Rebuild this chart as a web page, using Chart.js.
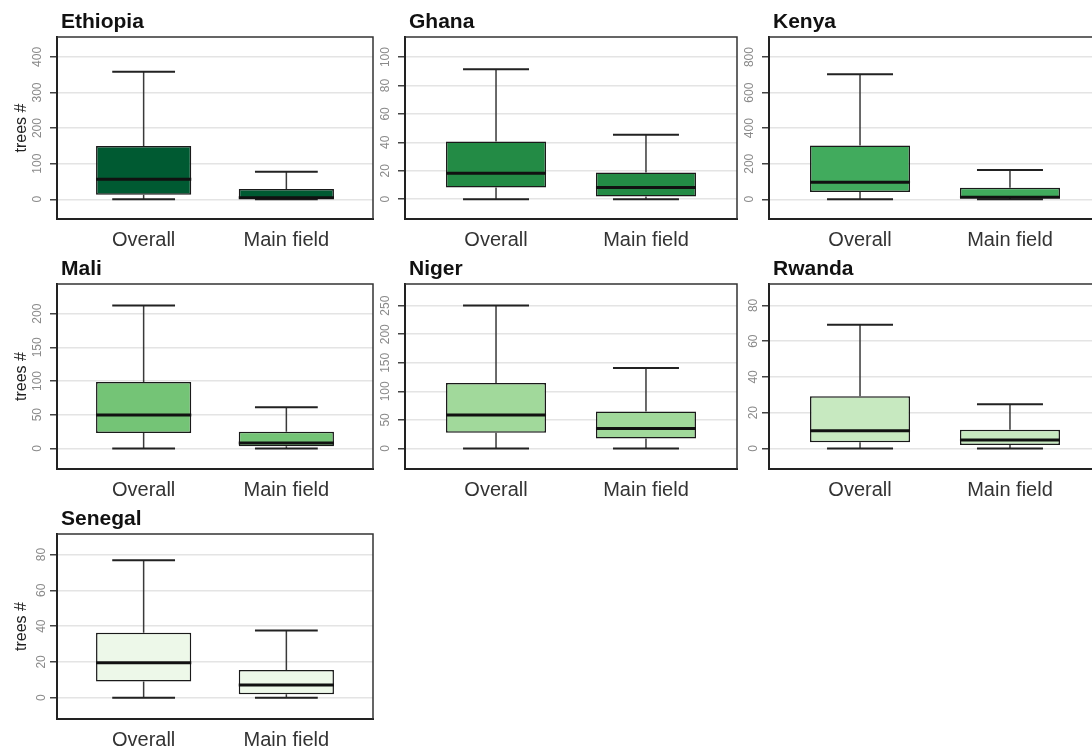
<!DOCTYPE html>
<html>
<head>
<meta charset="utf-8">
<script src="https://cdn.jsdelivr.net/npm/chart.js@4"></script>
<style>
html, body { margin: 0; padding: 0; background: #fff; overflow: hidden; width: 1092px; height: 751px; }
#wrap { position: relative; width: 1092px; height: 751px; }
canvas { position: absolute; }
</style>
</head>
<body>
<div id="wrap"></div>
<script>
const countries = ['Ethiopia', 'Ghana', 'Kenya', 'Mali', 'Niger', 'Rwanda', 'Senegal'];
const groups = ['Overall', 'Main field'];

// [min, q1, median, q3, max] per country
const overallStats = [
    [0, 13, 56, 150, 358],
    [0, 8.2, 18.3, 40.6, 91.5],
    [0, 41, 96, 302, 703],
    [0, 22.8, 49.6, 98.6, 212],
    [0, 27.5, 58.5, 114.6, 250.5],
    [0, 3.4, 9.9, 29.2, 69.2],
    [0, 9.1, 19.5, 36.3, 76.8]
];
const mainFieldStats = [
    [0, 2, 4, 29, 77],
    [0, 1.9, 8.2, 18.8, 45.3],
    [0, 8, 12, 65, 165],
    [0, 3, 8, 24.8, 61],
    [0, 17.5, 35, 64.8, 140.8],
    [0, 1.9, 4.7, 10.5, 24.7],
    [0, 2, 7.1, 15.5, 37.6]
];

const yTicks = [
    [0, 100, 200, 300, 400],
    [0, 20, 40, 60, 80, 100],
    [0, 200, 400, 600, 800],
    [0, 50, 100, 150, 200],
    [0, 50, 100, 150, 200, 250],
    [0, 20, 40, 60, 80],
    [0, 20, 40, 60, 80]
];
const yLimits = [
    [-55.5, 456],
    [-13.9, 114.1],
    [-111, 913],
    [-30.6, 244],
    [-36, 288],
    [-11.5, 92],
    [-11.9, 91.5]
];

const boxColors = ['#005a32', '#238b45', '#41ab5d', '#74c476', '#a1d99b', '#c7e9c0', '#edf8e9'];

// panel layout
const colLeft = [0, 376, 740];
const colWidth = [376, 364, 365];
const yAxisWidth = [57, 29, 29];
const rowTop = [0, 247, 497];
const plotHeight = [182, 185, 185];
const titleSpace = 37;
const xAxisHeight = 40;

const FONT = "'Liberation Sans', Arial, sans-serif";

function makeExtras(stats, title) {
    return {
        id: 'boxExtras',
        afterDatasetsDraw(chart) {
            const ctx = chart.ctx;
            const x = chart.scales.x;
            const y = chart.scales.y;
            const bars = chart.getDatasetMeta(0).data;
            ctx.save();
            stats.forEach((s, i) => {
                const cx = x.getPixelForValue(i + 1);
                const capL = x.getPixelForValue(i + 1 - 0.22);
                const capR = x.getPixelForValue(i + 1 + 0.22);
                // whiskers
                ctx.strokeStyle = '#3a3a3a';
                ctx.lineWidth = 1.5;
                ctx.beginPath();
                ctx.moveTo(cx, y.getPixelForValue(s[3]));
                ctx.lineTo(cx, y.getPixelForValue(s[4]));
                ctx.moveTo(cx, y.getPixelForValue(s[1]));
                ctx.lineTo(cx, y.getPixelForValue(s[0]));
                ctx.stroke();
                // caps
                ctx.strokeStyle = '#222';
                ctx.lineWidth = 2;
                ctx.beginPath();
                ctx.moveTo(capL, y.getPixelForValue(s[4]));
                ctx.lineTo(capR, y.getPixelForValue(s[4]));
                ctx.moveTo(capL, y.getPixelForValue(s[0]));
                ctx.lineTo(capR, y.getPixelForValue(s[0]));
                ctx.stroke();
                // median
                const bar = bars[i];
                const ym = y.getPixelForValue(s[2]);
                ctx.strokeStyle = '#111';
                ctx.lineWidth = 3;
                ctx.beginPath();
                ctx.moveTo(bar.x - bar.width / 2, ym);
                ctx.lineTo(bar.x + bar.width / 2, ym);
                ctx.stroke();
            });
            ctx.restore();
        },
        afterDraw(chart) {
            const ctx = chart.ctx;
            const a = chart.chartArea;
            ctx.save();
            ctx.strokeStyle = '#333';
            ctx.lineWidth = 1.5;
            ctx.beginPath();
            ctx.moveTo(a.left, a.top);
            ctx.lineTo(a.right, a.top);
            ctx.lineTo(a.right, a.bottom);
            ctx.stroke();
            ctx.fillStyle = '#111';
            ctx.font = 'bold 21px ' + FONT;
            ctx.textBaseline = 'alphabetic';
            ctx.textAlign = 'left';
            ctx.fillText(title, a.left + 4, a.top - 9.5);
            ctx.restore();
        }
    };
}

function createPanel(idx) {
    const row = Math.floor(idx / 3);
    const col = idx % 3;
    const canvas = document.createElement('canvas');
    const w = colWidth[col];
    const h = titleSpace + plotHeight[row] + xAxisHeight;
    canvas.width = w;
    canvas.height = h;
    canvas.style.left = colLeft[col] + 'px';
    canvas.style.top = rowTop[row] + 'px';
    canvas.style.width = w + 'px';
    canvas.style.height = h + 'px';
    document.getElementById('wrap').appendChild(canvas);

    const stats = [overallStats[idx], mainFieldStats[idx]];
    const ticks = yTicks[idx];

    new Chart(canvas.getContext('2d'), {
        type: 'bar',
        data: {
            datasets: [{
                data: stats.map((s, i) => ({ x: i + 1, y: [s[1], s[3]] })),
                backgroundColor: boxColors[idx],
                borderColor: '#1a1a1a',
                borderWidth: 1.5,
                borderSkipped: false,
                barPercentage: 0.667,
                categoryPercentage: 1
            }]
        },
        options: {
            responsive: false,
            animation: false,
            devicePixelRatio: 1,
            layout: { padding: { top: titleSpace, right: w - (yAxisWidth[col] + (col === 0 ? 316 : 332)), left: 0, bottom: 0 } },
            plugins: {
                legend: { display: false },
                tooltip: { enabled: false },
                title: { display: false }
            },
            scales: {
                x: {
                    type: 'linear',
                    min: 0.393,
                    max: 2.607,
                    offset: false,
                    afterBuildTicks: s => { s.ticks = groups.map((g, i) => ({ value: i + 1 })); },
                    afterFit: s => { s.height = xAxisHeight; },
                    grid: { display: false, drawTicks: false, offset: false },
                    border: { display: true, color: '#222', width: 2 },
                    ticks: {
                        padding: 9,
                        color: '#333',
                        font: { family: FONT, size: 20 },
                        autoSkip: false,
                        maxRotation: 0,
                        callback: v => groups[v - 1]
                    }
                },
                y: {
                    min: yLimits[idx][0],
                    max: yLimits[idx][1],
                    afterBuildTicks: s => { s.ticks = ticks.map(v => ({ value: v })); },
                    afterFit: s => { s.width = yAxisWidth[col]; },
                    grid: { color: '#e4e4e4', lineWidth: 1.5, tickLength: 7, tickColor: '#444', tickWidth: 1.5 },
                    border: { display: true, color: '#222', width: 2 },
                    ticks: {
                        minRotation: 90,
                        maxRotation: 90,
                        crossAlign: 'center',
                        padding: 2,
                        autoSkip: false,
                        color: '#8a8a8a',
                        font: { family: FONT, size: 12 }
                    },
                    title: {
                        display: col === 0,
                        text: 'trees #',
                        color: '#222',
                        font: { family: FONT, size: 16 },
                        padding: { top: 12, bottom: 0 }
                    }
                }
            }
        },
        plugins: [makeExtras(stats, countries[idx])]
    });
}

countries.forEach((c, i) => createPanel(i));
</script>
</body>
</html>
